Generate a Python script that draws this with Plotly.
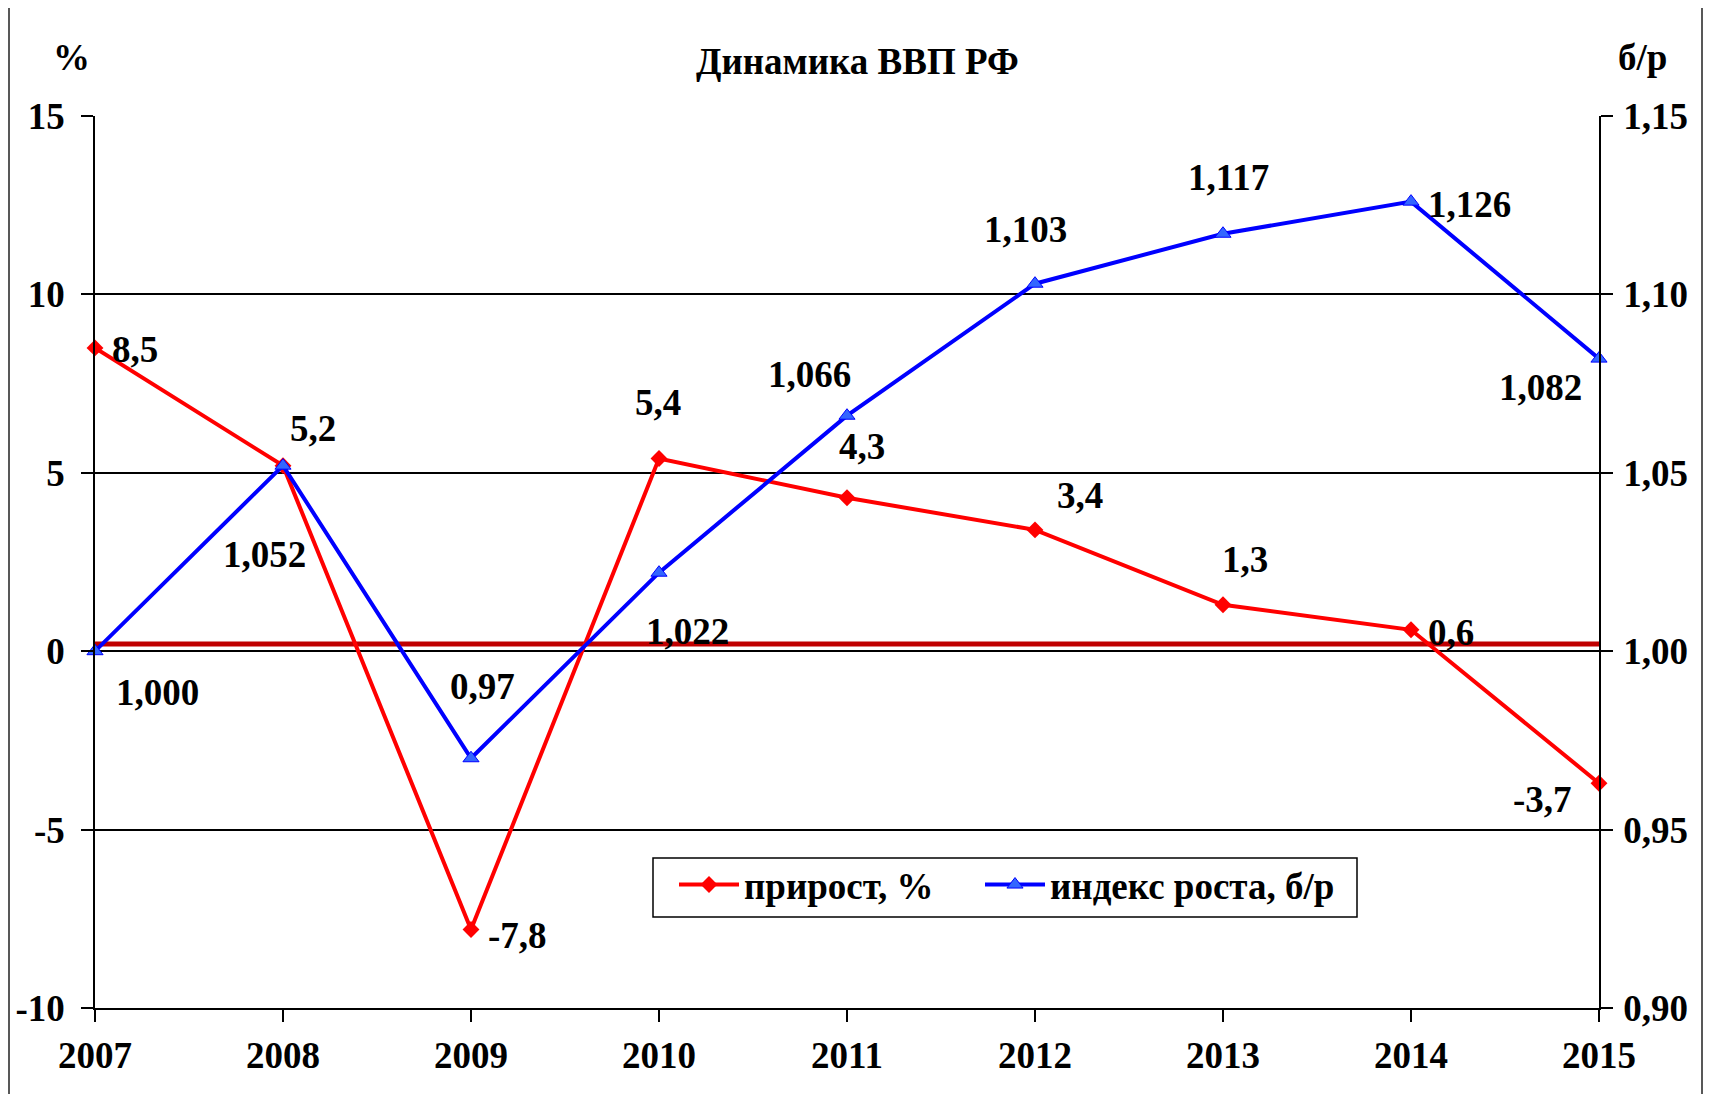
import plotly.graph_objects as go

years = [2007, 2008, 2009, 2010, 2011, 2012, 2013, 2014, 2015]
growth_pct = [8.5, 5.2, -7.8, 5.4, 4.3, 3.4, 1.3, 0.6, -3.7]
growth_labels = ["8,5", "5,2", "-7,8", "5,4", "4,3", "3,4", "1,3", "0,6", "-3,7"]
index_vals = [1.000, 1.052, 0.97, 1.022, 1.066, 1.103, 1.117, 1.126, 1.082]
index_labels = ["1,000", "1,052", "0,97", "1,022", "1,066", "1,103", "1,117", "1,126", "1,082"]

left_ticks = [-10, -5, 0, 5, 10, 15]
left_ticktext = ["-10", "-5", "0", "5", "10", "15"]
right_ticks = [0.90, 0.95, 1.00, 1.05, 1.10, 1.15]
right_ticktext = ["0,90", "0,95", "1,00", "1,05", "1,10", "1,15"]
x_ticktext = ["2007", "2008", "2009", "2010", "2011", "2012", "2013", "2014", "2015"]

# label offsets (pixels; dx right, dy up)
red_off = [(40, -2), (30, 37), (46, -6), (-1, 56), (15, 51), (45, 34), (22, 45), (40, -3), (-57, -16)]
blue_off = [(62, -41), (-19, -89), (11, 72), (28, -59), (-38, 41), (-10, 54), (5, 56), (58, -3), (-59, -29)]

FONT = "Liberation Serif"
fsize = 37
tsize = 37

# page body has an 8px margin; plot area in page coords: x 95..1599, y 116..1008
def px_x(px):
    return (px - 95) / 1504

def px_y(py):
    return (1008 - py) / 892

fig = go.Figure()
fig.add_trace(go.Scatter(
    x=years, y=growth_pct, name="прирост, %", mode="lines+markers",
    legend="legend",
    line=dict(color="#FF0000", width=4),
    marker=dict(symbol="diamond", size=13, color="#FF0000"),
    cliponaxis=False, yaxis="y"))
fig.add_trace(go.Scatter(
    x=years, y=index_vals, name="индекс роста, б/р", mode="lines+markers",
    legend="legend2",
    line=dict(color="#0000FF", width=4),
    marker=dict(symbol="triangle-up", size=14, color="#3366FF",
                line=dict(color="#0000FF", width=1)),
    cliponaxis=False, yaxis="y2"))

lab_font = dict(family=FONT, size=fsize, color="black", weight="bold")
ann = []
for x, y, t, (dx, dy) in zip(years, growth_pct, growth_labels, red_off):
    ann.append(dict(x=x, y=y, xref="x", yref="y", text=t, showarrow=False,
                    xshift=dx, yshift=dy, xanchor="center", yanchor="middle",
                    font=lab_font))
for x, y, t, (dx, dy) in zip(years, index_vals, index_labels, blue_off):
    ann.append(dict(x=x, y=y, xref="x", yref="y2", text=t, showarrow=False,
                    xshift=dx, yshift=dy, xanchor="center", yanchor="middle",
                    font=lab_font))

for txt, px, py in [("Динамика ВВП РФ", 857, 62), ("%", 71, 57), ("б/р", 1642, 57)]:
    ann.append(dict(x=px_x(px), y=px_y(py), xref="paper", yref="paper",
                    text=txt, showarrow=False, xanchor="center", yanchor="middle",
                    font=lab_font))

shapes = [
    # outer chart border
    dict(type="rect", xref="paper", yref="paper",
         x0=px_x(9), x1=px_x(1702), y0=px_y(1100), y1=px_y(5),
         line=dict(color="#222222", width=1.5), fillcolor="rgba(0,0,0,0)"),
    # dark red reference line
    dict(type="line", xref="paper", yref="y", x0=0, x1=1, y0=0.2, y1=0.2,
         line=dict(color="#C00000", width=5), layer="between"),
    # legend frame
    dict(type="rect", xref="paper", yref="paper",
         x0=px_x(653), x1=px_x(1357), y0=px_y(917), y1=px_y(858),
         line=dict(color="black", width=1.5), fillcolor="white", layer="between"),
]

tickfont = dict(family=FONT, size=tsize, color="black", weight="bold")
leg_common = dict(orientation="h", xanchor="left", yanchor="top",
                  borderwidth=0, bgcolor="rgba(0,0,0,0)",
                  font=lab_font, itemwidth=60)

fig.update_layout(
    width=1703, height=1086,
    margin=dict(l=87, r=112, t=108, b=86, autoexpand=False),
    paper_bgcolor="white", plot_bgcolor="white",
    showlegend=True,
    legend=dict(x=px_x(674), y=px_y(854), **leg_common),
    legend2=dict(x=px_x(980), y=px_y(854), **leg_common),
    xaxis=dict(range=[2007, 2015], tickvals=years, ticktext=x_ticktext,
               showgrid=False, zeroline=False, showline=True, linecolor="black", linewidth=1.5,
               ticks="outside", ticklen=12, tickcolor="black", tickwidth=1.5,
               tickfont=tickfont, ticklabelstandoff=2, automargin=False),
    yaxis=dict(range=[-10, 15], tickvals=left_ticks, ticktext=left_ticktext,
               showgrid=True, gridcolor="black", gridwidth=1.5, zeroline=False,
               showline=True, linecolor="black", linewidth=1.5,
               ticks="outside", ticklen=12, tickcolor="black", tickwidth=1.5,
               tickfont=tickfont, ticklabelstandoff=9, automargin=False),
    yaxis2=dict(range=[0.90, 1.15], tickvals=right_ticks, ticktext=right_ticktext,
                overlaying="y", side="right", showgrid=False, zeroline=False,
                showline=True, linecolor="black", linewidth=1.5,
                ticks="outside", ticklen=12, tickcolor="black", tickwidth=1.5,
                tickfont=tickfont, ticklabelstandoff=3, automargin=False),
    annotations=ann,
    shapes=shapes,
)

fig.write_html("out.html")
